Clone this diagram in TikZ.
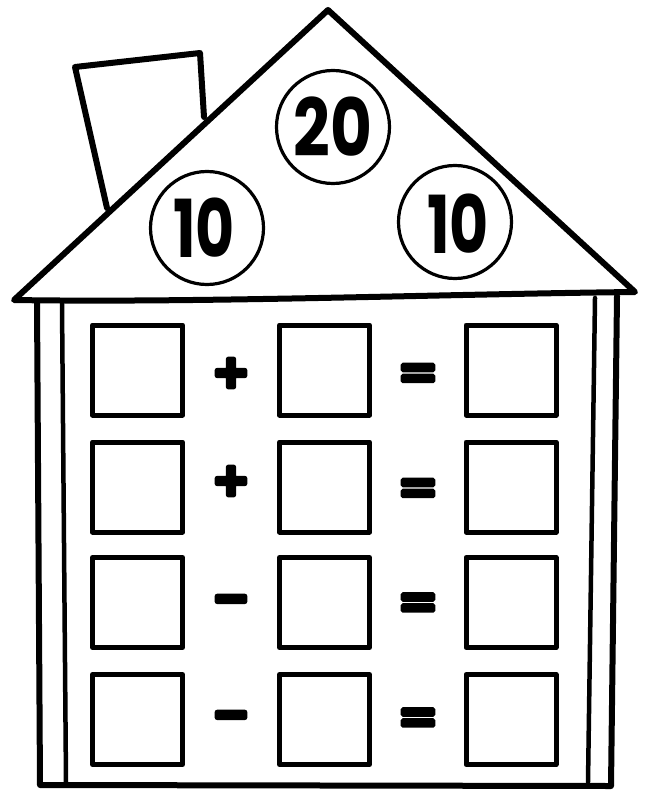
\documentclass[tikz,border=0pt]{standalone}
\usepackage{fontspec}
\newfontfamily\numfont{Poppins}
\newfontfamily\opfont{DejaVu Sans}[FakeBold=12]
\newfontfamily\eqfont{DejaVu Sans}[FakeBold=8]
\begin{document}
\begin{tikzpicture}[x=1pt,y=-1pt,line join=round,line cap=round,
  roof/.style={line width=6pt},
  wall/.style={line width=6pt},
  innerwall/.style={line width=4.5pt},
  slot/.style={draw,line width=5pt,minimum size=90pt,inner sep=0pt},
  ring/.style={circle,draw,line width=3.2pt,minimum size=113pt,inner sep=0pt},
  num/.style={inner sep=0pt,font=\numfont\bfseries\fontsize{80}{80}\selectfont,xscale=0.75},
  op/.style={inner sep=0pt,font=\opfont\bfseries\fontsize{44}{44}\selectfont},
  eq/.style={inner sep=0pt,font=\eqfont\bfseries\fontsize{49}{49}\selectfont}]
\useasboundingbox (0,0) rectangle (646,791);
% chimney
\coordinate (c1) at (107,208);
\coordinate (c2) at (75,67);
\coordinate (c3) at (200,53);
\coordinate (c4) at (204,117);
\draw[roof] (c1) -- (c2) -- (c3) -- (c4);
% roof
\coordinate (rl) at (14,300);
\coordinate (ra) at (328,10);
\coordinate (rr) at (635,292);
\draw[roof,fill=white] (rl) -- (ra) -- (rr) .. controls (450,294) and (200,303) .. (rl) -- cycle;
% walls
\coordinate (wl1) at (37,302);
\coordinate (wl2) at (40,785);
\coordinate (wr2) at (611,786);
\coordinate (wr1) at (617,296);
\draw[wall] (wl1) -- (wl2) -- (wr2) -- (wr1);
\coordinate (il1) at (62,304);
\coordinate (il2) at (66,782);
\coordinate (ir1) at (595,298);
\coordinate (ir2) at (588,782);
\draw[innerwall] (il1) -- (il2);
\draw[innerwall] (ir1) -- (ir2);
% circles
\node[ring] (r20) at (333,127) {};
\node[ring] (r10a) at (207,228) {};
\node[ring] (r10b) at (455,222) {};
\node[num,xscale=1.07] (t20) at (333,127) {20};
\node[num] (t10a) at (204,228) {10};
\node[num] (t10b) at (458,224) {10};
% boxes
\foreach \r/\y in {1/370,2/487,3/602.5,4/719.5}{
  \node[slot] (a\r) at (137.5,\y) {};
  \node[slot] (b\r) at (324.5,\y) {};
  \node[slot] (c\r) at (511,\y) {};
}
% operators
\node[op] (p1) at (231,373) {+};
\node[op] (p2) at (231,481) {+};
\node[op] (m3) at (231,604.5) {−};
\node[op] (m4) at (231,720.5) {−};
\node[eq] (e1) at (418,376.5) {=};
\node[eq] (e2) at (418,491.5) {=};
\node[eq] (e3) at (418,606) {=};
\node[eq] (e4) at (418,721) {=};
\end{tikzpicture}
\end{document}
